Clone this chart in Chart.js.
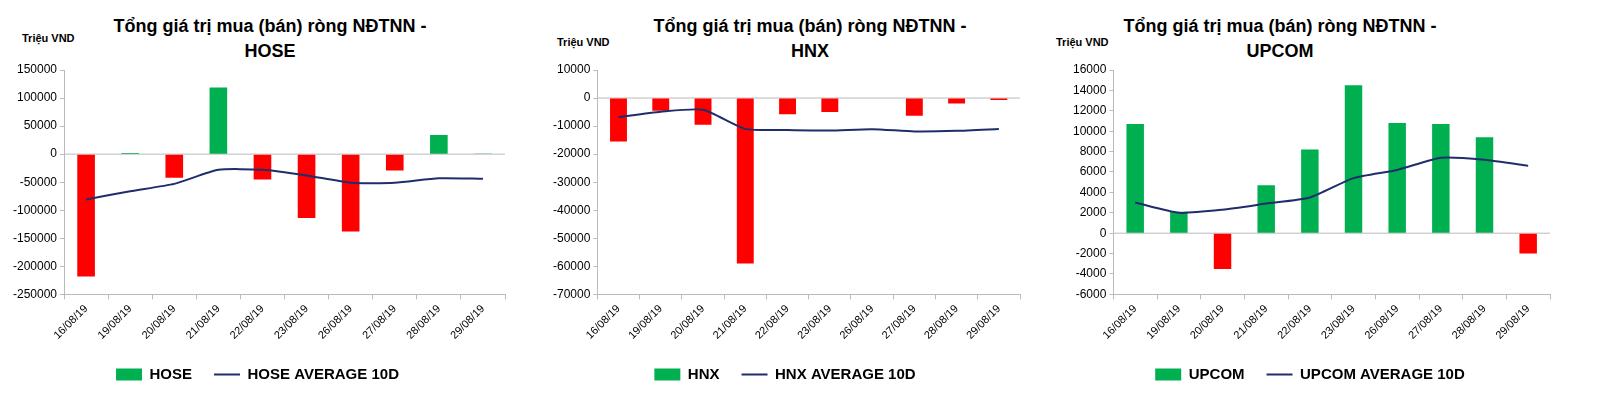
<!DOCTYPE html>
<html><head><meta charset="utf-8">
<script src="https://cdn.jsdelivr.net/npm/chart.js@4"></script>
<style>
body{margin:0;background:#fff;font-family:"Liberation Sans",Arial,sans-serif;}
.panel{position:absolute;top:0;height:402px;}
.title{position:absolute;top:14px;font-weight:bold;font-size:18px;text-align:center;line-height:25px;color:#000;white-space:nowrap;}
.unit{position:absolute;font-weight:bold;font-size:11px;color:#000;}
canvas{position:absolute;left:0;}
</style></head><body>
<div class="panel" style="left:0;width:530px"><div class="unit" style="left:22px;top:32px">Triệu VND</div><div class="title" style="left:100px;width:340px">Tổng giá trị mua (bán) ròng NĐTNN -<br>HOSE</div><canvas id="c1"></canvas></div>
<div class="panel" style="left:530px;width:520px"><div class="unit" style="left:27px;top:36px">Triệu VND</div><div class="title" style="left:110px;width:340px">Tổng giá trị mua (bán) ròng NĐTNN -<br>HNX</div><canvas id="c2"></canvas></div>
<div class="panel" style="left:1050px;width:550px"><div class="unit" style="left:6px;top:36px">Triệu VND</div><div class="title" style="left:60px;width:340px">Tổng giá trị mua (bán) ròng NĐTNN -<br>UPCOM</div><canvas id="c3"></canvas></div>
<script>
var dates=["16/08/19","19/08/19","20/08/19","21/08/19","22/08/19","23/08/19","26/08/19","27/08/19","28/08/19","29/08/19"];
var hoseNet=[-218000,2000,-42000,119000,-45000,-114000,-138000,-29000,34000,1000];
var hoseAvg=[-81000,-66000,-53000,-28000,-28000,-38000,-51000,-51000,-43000,-44000];
var hnxNet=[-15500,-4500,-9500,-59000,-5800,-5000,200,-6300,-1900,-700];
var hnxAvg=[-6800,-4900,-4200,-11000,-11400,-11600,-11100,-11900,-11700,-11000];
var upcomNet=[10700,2100,-3500,4700,8200,14500,10800,10700,9400,-2000];
var upcomAvg=[3000,2000,2300,2900,3500,5400,6200,7400,7200,6600];

var GREEN="#00b050", RED="#ff0000", NAVY="#1f2d6b";

function makeChart(id, w, name, net, avg, yMin, yMax, step, pad) {
	var cv=document.getElementById(id);
	cv.style.width=w+"px"; cv.style.height="402px";
	new Chart(cv.getContext('2d'), {
		type:'bar',
		data:{labels:dates, datasets:[
			{type:'line', label:name+" AVERAGE 10D", data:avg, borderColor:NAVY, borderWidth:2, pointRadius:0, tension:0.2, order:0},
			{label:name, data:net, backgroundColor:net.map(function(v){return v<0?RED:GREEN;}), categoryPercentage:0.8, barPercentage:0.5, order:1}
		]},
		options:{
			responsive:false, animation:false, devicePixelRatio:1,
			layout:{padding:pad},
			plugins:{
				tooltip:{enabled:false},
				legend:{position:'bottom', labels:{
					font:{family:"Liberation Sans", size:15, weight:'bold'}, color:'#000', usePointStyle:true, pointStyleWidth:26, boxHeight:12, padding:22,
					generateLabels:function(ch) {
						return [
							{text:name, fillStyle:GREEN, strokeStyle:GREEN, lineWidth:0, pointStyle:'rect', datasetIndex:1},
							{text:name+" AVERAGE 10D", fillStyle:NAVY, strokeStyle:NAVY, lineWidth:2, pointStyle:'line', datasetIndex:0}
						];
					}
				}}
			},
			scales:{
				x:{grid:{display:true, drawOnChartArea:false, offset:true, color:'#bbb', tickLength:5}, border:{color:'#bbb'},
					ticks:{maxRotation:45, minRotation:45, color:'#000', font:{family:"Liberation Sans", size:11}}},
				y:{min:yMin, max:yMax, grid:{drawOnChartArea:false, color:'#bbb', tickLength:4}, border:{color:'#bbb'},
					ticks:{stepSize:step, color:'#000', font:{family:"Liberation Sans", size:12}, callback:function(v){return String(v);}}}
			}
		},
		plugins:[{id:'zeroLine', beforeDatasetsDraw:function(ch){
			var c=ch.ctx, y=ch.scales.y.getPixelForValue(0);
			c.save(); c.strokeStyle='#bbb'; c.lineWidth=1; c.beginPath();
			c.moveTo(ch.chartArea.left,y); c.lineTo(ch.chartArea.right,y); c.stroke(); c.restore();
		}}]
	});
}
makeChart("c1",530,"HOSE",hoseNet,hoseAvg,-250000,150000,50000,{top:70,left:10,right:25,bottom:10});
makeChart("c2",520,"HNX",hnxNet,hnxAvg,-70000,10000,10000,{top:70,left:20,right:30,bottom:10});
makeChart("c3",550,"UPCOM",upcomNet,upcomAvg,-6000,16000,2000,{top:70,left:20,right:50,bottom:10});
</script>
</body></html>
